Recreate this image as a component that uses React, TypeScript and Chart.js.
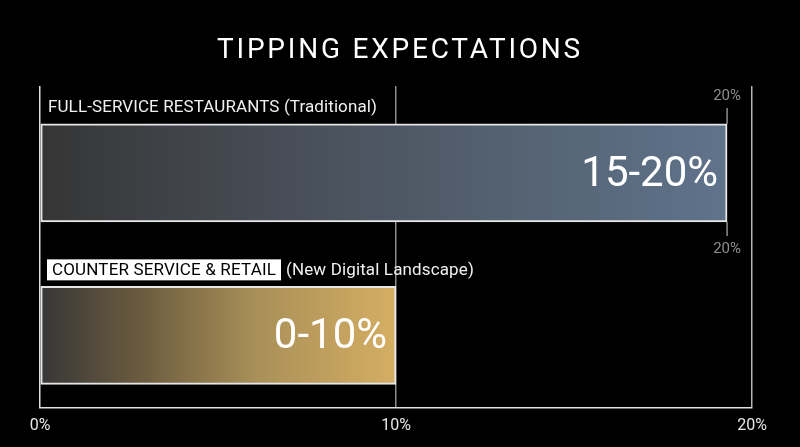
import { useEffect, useRef } from 'react';
import { Chart, registerables } from 'chart.js';

Chart.register(...registerables);

// ---- data ----
const chartTitle = 'TIPPING EXPECTATIONS';
const categories = ['FULL-SERVICE RESTAURANTS', 'COUNTER SERVICE & RETAIL'];
const categoryNotes = ['(Traditional)', '(New Digital Landscape)'];
const highlighted = [false, true];
const values = [19.3, 10];
const rangeLabels = ['15-20%', '0-10%'];
const capLabels = ['20%', ''];
const axisMax = 20;
const axisStep = 10;

// ---- styles ----
const FONT = 'Roboto, "Open Sans", sans-serif';
const gradientStops: [number, string][][] = [
  [[0, '#353535'], [0.3, '#454a52'], [0.65, '#53606f'], [1, '#5f738b']],
  [[0, '#373737'], [0.3, '#6e5e40'], [0.6, '#a88f58'], [1, '#d5ae63']],
];

function fitText(ctx: CanvasRenderingContext2D, text: string, x: number, y: number, target: number) {
  (ctx as any).letterSpacing = '0px';
  const w = ctx.measureText(text).width;
  const ls = (target - w) / Math.max(text.length, 1);
  (ctx as any).letterSpacing = ls + 'px';
  ctx.fillText(text, x, y);
  (ctx as any).letterSpacing = '0px';
}

const overlayPlugin = {
  id: 'overlay',
  afterDraw(chart: any) {
    const { ctx, chartArea } = chart;
    ctx.save();
    // title
    ctx.fillStyle = '#ffffff';
    ctx.font = `400 28px ${FONT}`;
    ctx.textAlign = 'left';
    ctx.textBaseline = 'alphabetic';
    const tw = 366;
    fitText(ctx, chartTitle, 400 - tw / 2, 58, tw);

    const meta = chart.getDatasetMeta(0);
    meta.data.forEach((bar: any, i: number) => {
      const top = Math.min(bar.y - bar.height / 2, bar.y + bar.height / 2);
      const bottom = top + Math.abs(bar.height);
      const labelY = top - 17;
      const left = chartArea.left;
      ctx.font = `400 17px ${FONT}`;
      ctx.textBaseline = 'middle';
      ctx.textAlign = 'left';
      if (highlighted[i]) {
        ctx.fillStyle = '#ffffff';
        ctx.fillRect(left + 7, labelY - 10, 234, 21);
        ctx.fillStyle = '#000000';
        fitText(ctx, categories[i], left + 12, labelY + 1, 224);
        ctx.fillStyle = '#f0f0f0';
        fitText(ctx, categoryNotes[i], left + 246, labelY + 1, 188);
      } else {
        ctx.fillStyle = '#f0f0f0';
        fitText(ctx, categories[i] + ' ' + categoryNotes[i], left + 8, labelY + 1, 329);
      }

      // range label inside bar
      ctx.fillStyle = '#ffffff';
      ctx.font = `400 42px ${FONT}`;
      ctx.textAlign = 'right';
      ctx.textBaseline = 'alphabetic';
      ctx.fillText(rangeLabels[i], bar.x - 9, bar.y + 13);

      // cap marker
      if (capLabels[i]) {
        ctx.strokeStyle = '#8e8e8e';
        ctx.lineWidth = 1.5;
        ctx.beginPath();
        ctx.moveTo(bar.x, top - 16);
        ctx.lineTo(bar.x, top);
        ctx.moveTo(bar.x, bottom);
        ctx.lineTo(bar.x, bottom + 14);
        ctx.stroke();
        ctx.fillStyle = '#8e8e8e';
        ctx.font = `400 15px ${FONT}`;
        ctx.textAlign = 'center';
        ctx.textBaseline = 'middle';
        ctx.fillText(capLabels[i], bar.x, top - 28);
        ctx.fillText(capLabels[i], bar.x, bottom + 27);
      }
    });
    ctx.restore();
  },
};

export default function App() {
  const canvasRef = useRef<HTMLCanvasElement | null>(null);

  useEffect(() => {
    document.body.style.margin = '0';
    document.body.style.background = '#000';
    const canvas = canvasRef.current;
    if (!canvas) return;
    const chart = new Chart(canvas, {
      type: 'bar',
      data: {
        datasets: [
          {
            data: values.map((v, i) => ({ x: v, y: i })),
            backgroundColor: (c: any) => {
              const chartObj = c.chart;
              if (!chartObj.chartArea || c.type !== 'data') return '#444';
              const xs = chartObj.scales.x;
              const x0 = xs.getPixelForValue(0);
              const x1 = xs.getPixelForValue(values[c.dataIndex]);
              const g = chartObj.ctx.createLinearGradient(x0, 0, x1, 0);
              gradientStops[c.dataIndex].forEach(([o, col]) => g.addColorStop(o, col));
              return g;
            },
            borderColor: '#e6e6e6',
            borderWidth: 2,
            borderSkipped: false,
            barThickness: 98,
          },
        ],
      },
      options: {
        indexAxis: 'y',
        animation: false,
        responsive: true,
        maintainAspectRatio: false,
        layout: { padding: { top: 86, left: 40, right: 48, bottom: 2 } },
        plugins: {
          legend: { display: false },
          tooltip: { enabled: false },
          title: { display: false },
        },
        scales: {
          x: {
            type: 'linear',
            min: 0,
            max: axisMax,
            ticks: {
              stepSize: axisStep,
              padding: 9,
              color: '#e6e6e6',
              font: { family: FONT, size: 16 },
              callback: (v: any) => v + '%',
            },
            grid: {
              drawTicks: false,
              lineWidth: 1.5,
              color: (c: any) =>
                c.tick && c.tick.value === 0 ? '#e0e0e0' : c.tick && c.tick.value === axisMax ? '#b4b4b4' : '#8c8c8c',
            },
            border: { display: true, color: '#e0e0e0', width: 1.5 },
          },
          y: {
            type: 'linear',
            reverse: true,
            offset: false,
            bounds: 'data',
            grace: 0,
            min: -0.535,
            max: 1.446,
            display: false,
          },
        },
      },
      plugins: [overlayPlugin],
    } as any);
    return () => chart.destroy();
  }, []);

  return (
    <div style={{ position: 'relative', width: 800, height: 447, background: '#000' }}>
      <canvas ref={canvasRef} />
    </div>
  );
}
